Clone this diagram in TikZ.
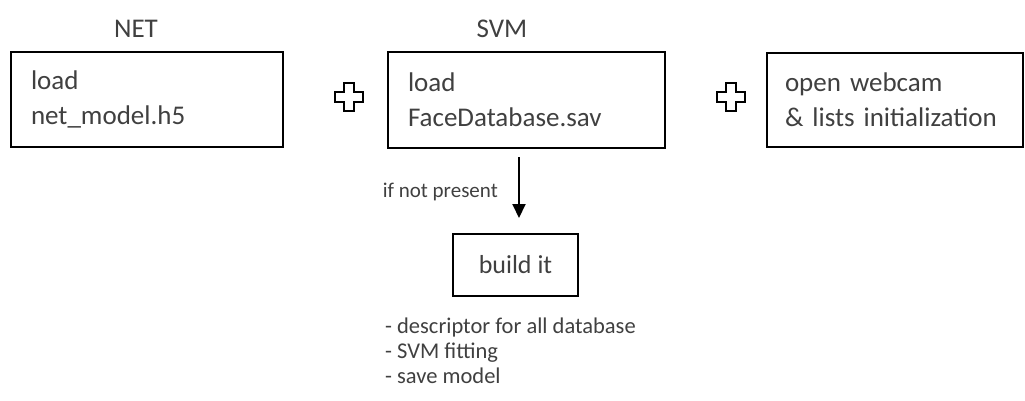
\documentclass[tikz,border=0pt]{standalone}
\usepackage{fontspec}
\setmainfont{Carlito}
\usetikzlibrary{arrows.meta}
\definecolor{txt}{HTML}{404040}
\begin{document}
\begin{tikzpicture}[x=1pt,y=-1pt,
  box/.style={draw=black,line width=2pt,inner ysep=0pt,align=left,text=txt,
    font=\fontsize{27}{35}\selectfont},
  lbl/.style={text=txt,inner sep=0pt,font=\fontsize{27}{33}\selectfont},
  small/.style={text=txt,inner sep=0pt,align=left,font=\fontsize{22.5}{25}\selectfont},
  arr/.style={line width=2pt,-{Triangle[width=13pt,length=14pt]}},
  plus/.style={line width=2pt,draw=black,line join=miter}]
\useasboundingbox (0,0) rectangle (1025,401);
\node[box,minimum width=272pt,minimum height=95pt,text width=232pt,inner xsep=20pt] (b1) at (147,99.5) {load\\net\_model.h5};
\node[box,minimum width=277pt,minimum height=96pt,text width=237pt,inner xsep=20pt] (b2) at (526.5,100) {load\\FaceDatabase.sav};
\node[box,minimum width=256pt,minimum height=94pt,text width=220pt,inner xsep=18pt] (b3) at (895,100) {open webcam\\\& lists initialization};
\node[lbl] (net) at (136,29) {NET};
\node[lbl] (svm) at (502,29) {SVM};
\node[box,minimum width=125pt,minimum height=62pt,align=center,inner xsep=0pt,font=\fontsize{26}{30}\selectfont] (build) at (515.5,265) {build it};
\coordinate (a1) at (519,157);
\coordinate (a2) at (519,218);
\draw[arr] (a1) -- (a2);
\node[small,anchor=east,font=\fontsize{21}{25}\selectfont] (cond) at (498,192) {if not present};
\node[small,anchor=north west] (list) at (385,318) {- descriptor for all database\\- SVM fitting\\- save model};
\foreach \n/\cx in {p1/349,p2/731}{
  \coordinate (\n) at (\cx,97);
  \draw[plus] (\n) ++(-5,-14) -- ++(10,0) -- ++(0,9) -- ++(9,0) -- ++(0,10) -- ++(-9,0) -- ++(0,9) -- ++(-10,0) -- ++(0,-9) -- ++(-9,0) -- ++(0,-10) -- ++(9,0) -- cycle;
}
\end{tikzpicture}
\end{document}
